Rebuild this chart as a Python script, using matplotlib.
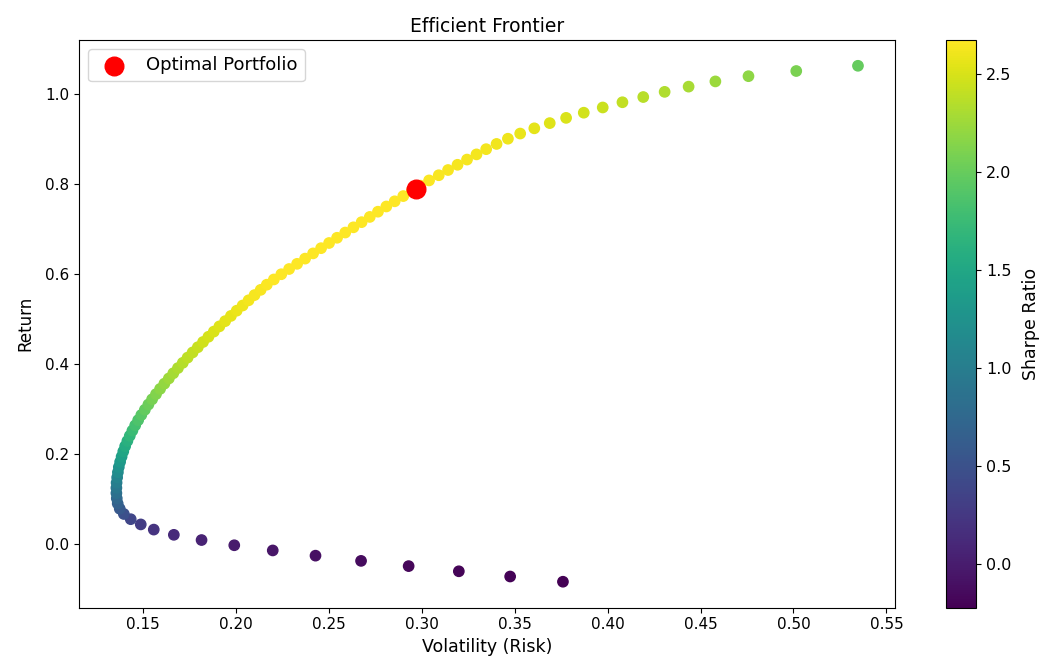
import matplotlib
matplotlib.use("Agg")
import matplotlib.pyplot as plt
import numpy as np

# Frontier portfolios
returns = [
    -0.0830, -0.0714, -0.0598, -0.0483, -0.0367, -0.0251, -0.0135, -0.0020, 0.0096, 0.0212,
    0.0328, 0.0443, 0.0559, 0.0675, 0.0791, 0.0906, 0.1022, 0.1138, 0.1254, 0.1369,
    0.1485, 0.1601, 0.1717, 0.1832, 0.1948, 0.2064, 0.2180, 0.2296, 0.2411, 0.2527,
    0.2643, 0.2759, 0.2874, 0.2990, 0.3106, 0.3222, 0.3337, 0.3453, 0.3569, 0.3685,
    0.3800, 0.3916, 0.4032, 0.4148, 0.4263, 0.4379, 0.4495, 0.4611, 0.4726, 0.4842,
    0.4958, 0.5074, 0.5190, 0.5305, 0.5421, 0.5537, 0.5653, 0.5768, 0.5884, 0.6000,
    0.6116, 0.6231, 0.6347, 0.6463, 0.6579, 0.6694, 0.6810, 0.6926, 0.7042, 0.7157,
    0.7273, 0.7389, 0.7505, 0.7620, 0.7736, 0.7852, 0.7968, 0.8084, 0.8199, 0.8315,
    0.8431, 0.8547, 0.8662, 0.8778, 0.8894, 0.9010, 0.9125, 0.9241, 0.9357, 0.9473,
    0.9588, 0.9704, 0.9820, 0.9936, 1.0051, 1.0167, 1.0283, 1.0399, 1.0514, 1.0630,
]
volatility = [
    0.3760, 0.3476, 0.3200, 0.2930, 0.2674, 0.2429, 0.2199, 0.1992, 0.1816, 0.1667,
    0.1559, 0.1489, 0.1435, 0.1398, 0.1376, 0.1365, 0.1360, 0.1358, 0.1358, 0.1359,
    0.1362, 0.1366, 0.1371, 0.1378, 0.1386, 0.1395, 0.1405, 0.1417, 0.1430, 0.1444,
    0.1459, 0.1475, 0.1492, 0.1511, 0.1530, 0.1550, 0.1571, 0.1593, 0.1616, 0.1640,
    0.1664, 0.1689, 0.1715, 0.1741, 0.1768, 0.1796, 0.1824, 0.1853, 0.1882, 0.1912,
    0.1943, 0.1974, 0.2005, 0.2037, 0.2069, 0.2101, 0.2134, 0.2167, 0.2205, 0.2245,
    0.2287, 0.2330, 0.2373, 0.2416, 0.2459, 0.2502, 0.2545, 0.2589, 0.2633, 0.2677,
    0.2721, 0.2765, 0.2810, 0.2855, 0.2901, 0.2947, 0.2993, 0.3040, 0.3092, 0.3142,
    0.3193, 0.3244, 0.3295, 0.3347, 0.3403, 0.3464, 0.3530, 0.3606, 0.3689, 0.3777,
    0.3872, 0.3974, 0.4080, 0.4192, 0.4307, 0.4436, 0.4580, 0.4758, 0.5015, 0.5347,
]
optimal_vol = 0.2970
optimal_ret = 0.790

ret = np.array(returns)
vol = np.array(volatility)
sharpe = ret / vol

fig = plt.figure(figsize=(10.41, 6.61), dpi=100)
ax = fig.add_axes([0.0762, 0.0809, 0.7836, 0.8586])
cax = fig.add_axes([0.9088, 0.0809, 0.0288, 0.8586])

sc = ax.scatter(vol, ret, c=sharpe, cmap="viridis", s=55)
ax.scatter([optimal_vol], [optimal_ret], color="red", s=180, label="Optimal Portfolio")

ax.set_title("Efficient Frontier", fontsize=13.5)
ax.set_xlabel("Volatility (Risk)", fontsize=12.5)
ax.set_ylabel("Return", fontsize=12, labelpad=8)
ax.tick_params(labelsize=11)
ax.legend(loc="upper left", fontsize=13)

cb = fig.colorbar(sc, cax=cax)
cb.set_label("Sharpe Ratio", fontsize=12.5, labelpad=8)
cb.ax.tick_params(labelsize=11.5)

fig.savefig("out.png", dpi=100)
